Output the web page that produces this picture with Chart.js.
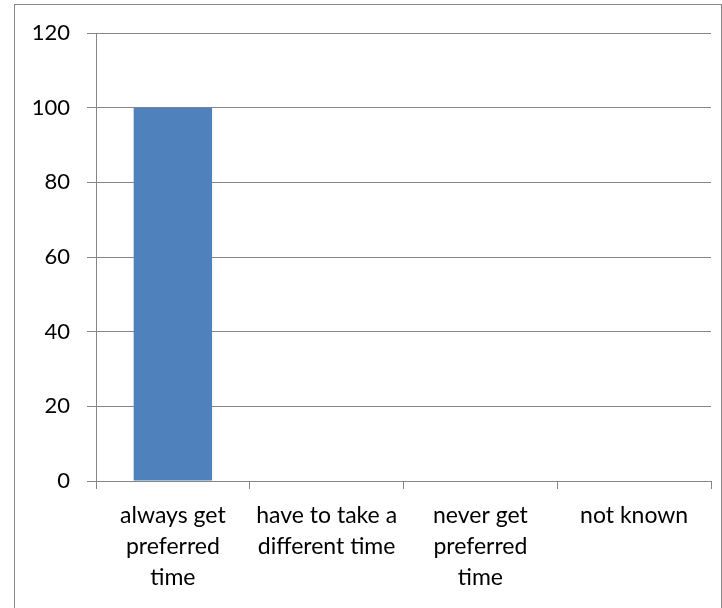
<!DOCTYPE html>
<html>
<head>
<meta charset="utf-8">
<script src="https://cdn.jsdelivr.net/npm/chart.js@4"></script>
<style>
  body { margin: 0; overflow: hidden; background: #fff; }
  #frame { position: absolute; left: 14px; top: 4px; width: 706px; height: 700px; border: 1px solid #868686; }
  #wrap { position: absolute; left: 0; top: 0; width: 722px; height: 608px; }
</style>
</head>
<body>
<div id="frame"></div>
<div id="wrap"><canvas id="chart" width="722" height="608"></canvas></div>
<script>
// chart data
const categories = [
  ['always get', 'preferred', 'time'],
  ['have to take a', 'different time'],
  ['never get', 'preferred', 'time'],
  ['not known']
];
const values = [100, 0, 0, 0];
const yTicks = [0, 20, 40, 60, 80, 100, 120];

const axisGray = '#868686';
const fontFamily = 'Lato, "Liberation Sans", sans-serif';

const ctx = document.getElementById('chart').getContext('2d');

new Chart(ctx, {
  type: 'bar',
  data: {
    labels: categories,
    datasets: [{
      data: values,
      backgroundColor: '#4f81bd',
      borderWidth: 0,
      barPercentage: 0.51,
      categoryPercentage: 1
    }]
  },
  options: {
    responsive: false,
    animation: false,
    layout: { padding: { top: 33, right: 11, left: 0, bottom: 0 } },
    plugins: {
      legend: { display: false },
      tooltip: { enabled: false }
    },
    scales: {
      x: {
        grid: {
          offset: true,
          drawOnChartArea: false,
          drawTicks: true,
          tickLength: 8,
          color: axisGray
        },
        border: { color: axisGray, width: 1 },
        ticks: {
          color: '#000',
          font: { family: fontFamily, size: 23, lineHeight: 1.35 },
          padding: 11,
          maxRotation: 0,
          autoSkip: false
        },
        afterFit: scale => { scale.height = 127; }
      },
      y: {
        min: 0,
        max: 120,
        afterBuildTicks: scale => { scale.ticks = yTicks.map(v => ({ value: v })); },
        grid: {
          color: axisGray,
          tickLength: 9,
          drawTicks: true
        },
        border: { color: axisGray, width: 1 },
        ticks: {
          color: '#000',
          font: { family: fontFamily, size: 22 },
          padding: 17
        },
        afterFit: scale => { scale.width = 96; }
      }
    }
  }
});
</script>
</body>
</html>
